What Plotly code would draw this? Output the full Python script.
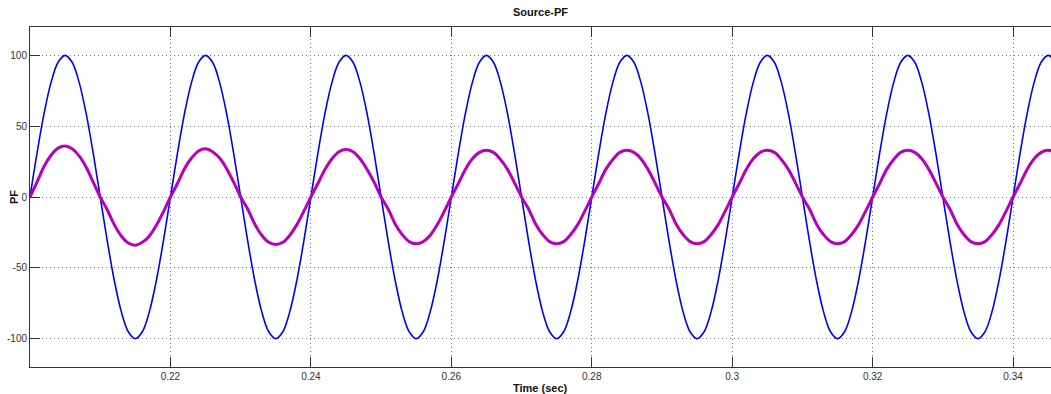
import plotly.graph_objects as go

# sample times (s), 1 ms step
t = [round(0.200 + 0.001 * i, 3) for i in range(151)]

# blue trace values
blue = [
    0, 30.9, 58.8, 80.9, 95.1, 100, 95.1, 80.9, 58.8, 30.9,
    0, -30.9, -58.8, -80.9, -95.1, -100, -95.1, -80.9, -58.8, -30.9,
    0, 30.9, 58.8, 80.9, 95.1, 100, 95.1, 80.9, 58.8, 30.9,
    0, -30.9, -58.8, -80.9, -95.1, -100, -95.1, -80.9, -58.8, -30.9,
    0, 30.9, 58.8, 80.9, 95.1, 100, 95.1, 80.9, 58.8, 30.9,
    0, -30.9, -58.8, -80.9, -95.1, -100, -95.1, -80.9, -58.8, -30.9,
    0, 30.9, 58.8, 80.9, 95.1, 100, 95.1, 80.9, 58.8, 30.9,
    0, -30.9, -58.8, -80.9, -95.1, -100, -95.1, -80.9, -58.8, -30.9,
    0, 30.9, 58.8, 80.9, 95.1, 100, 95.1, 80.9, 58.8, 30.9,
    0, -30.9, -58.8, -80.9, -95.1, -100, -95.1, -80.9, -58.8, -30.9,
    0, 30.9, 58.8, 80.9, 95.1, 100, 95.1, 80.9, 58.8, 30.9,
    0, -30.9, -58.8, -80.9, -95.1, -100, -95.1, -80.9, -58.8, -30.9,
    0, 30.9, 58.8, 80.9, 95.1, 100, 95.1, 80.9, 58.8, 30.9,
    0, -30.9, -58.8, -80.9, -95.1, -100, -95.1, -80.9, -58.8, -30.9,
    0, 30.9, 58.8, 80.9, 95.1, 100, 95.1, 80.9, 58.8, 30.9,
    0,
]

# magenta trace values
magenta = [
    0, 10.5, 21.5, 29.5, 34.5, 36.0, 34.0, 29.0, 21.0, 10.5,
    0, -9.0, -19.5, -27.5, -32.5, -34.0, -32.0, -27.5, -20.0, -10.5,
    0, 9.5, 20.0, 27.5, 32.5, 34.0, 32.0, 27.5, 20.0, 10.5,
    0, -8.5, -19.0, -27.0, -32.0, -33.5, -32.0, -27.0, -19.5, -10.0,
    0, 9.5, 19.5, 27.0, 32.0, 33.5, 32.0, 27.0, 19.5, 10.5,
    0, -8.5, -19.0, -26.5, -31.5, -33.0, -31.5, -27.0, -19.5, -10.0,
    0, 9.5, 19.5, 27.0, 31.5, 33.0, 31.5, 26.5, 19.5, 10.0,
    0, -8.5, -19.0, -26.5, -31.5, -33.0, -31.5, -26.5, -19.5, -10.0,
    0, 9.5, 19.5, 26.5, 31.5, 33.0, 31.5, 27.0, 19.5, 10.0,
    0, -8.5, -19.0, -26.5, -31.5, -33.0, -31.5, -26.5, -19.5, -10.0,
    0, 9.5, 19.5, 27.0, 31.5, 33.0, 31.5, 26.5, 19.5, 10.0,
    0, -8.5, -19.0, -26.5, -31.5, -33.0, -31.5, -26.5, -19.5, -10.0,
    0, 9.5, 19.5, 26.5, 31.5, 33.0, 31.5, 27.0, 19.5, 10.0,
    0, -8.5, -19.0, -26.5, -31.5, -33.0, -31.5, -26.5, -19.5, -10.0,
    0, 9.5, 19.5, 27.0, 31.5, 33.0, 31.5, 27.0, 19.5, 10.0,
    0,
]

x_ticks = [0.22, 0.24, 0.26, 0.28, 0.30, 0.32, 0.34]
x_tick_labels = ["0.22", "0.24", "0.26", "0.28", "0.3", "0.32", "0.34"]
y_ticks = [-100, -50, 0, 50, 100]
y_tick_labels = ["-100", "-50", "0", "50", "100"]

FONT = "Liberation Sans, Arial, sans-serif"
AX = "#333333"

fig = go.Figure()
fig.add_trace(go.Scatter(x=t, y=blue, mode="lines",
                         line=dict(color="#0000FF", width=1.6, shape="spline"),
                         showlegend=False))
fig.add_trace(go.Scatter(x=t, y=magenta, mode="lines",
                         line=dict(color="#B800B8", width=3, shape="spline"),
                         showlegend=False))

axis_common = dict(
    showline=True, linecolor=AX, linewidth=1,
    ticks="inside", ticklen=10, tickcolor=AX, tickwidth=1,
    showgrid=True, gridcolor="#777777", griddash="1px,3px", gridwidth=1,
    zeroline=False,
    tickfont=dict(family=FONT, size=10, color=AX),
)

fig.update_xaxes(range=[0.2, 0.3454], tickvals=x_ticks, ticktext=x_tick_labels,
                 mirror="allticks", **axis_common)
fig.update_yaxes(range=[-120, 120], tickvals=y_ticks, ticktext=y_tick_labels,
                 mirror=False, **axis_common)

fig.update_layout(
    width=1051, height=394,
    margin=dict(l=30, r=0, t=27, b=27, autoexpand=False),
    plot_bgcolor="white", paper_bgcolor="white",
    font=dict(family=FONT),
    annotations=[
        dict(text="<b>Source-PF</b>", x=0.5, y=1.044, xref="paper", yref="paper",
             showarrow=False, xanchor="center", yanchor="middle",
             font=dict(size=11, color="#111111")),
        dict(text="<b>Time (sec)</b>", x=0.5, y=-0.062, xref="paper", yref="paper",
             showarrow=False, xanchor="center", yanchor="middle",
             font=dict(size=11, color="#111111")),
        dict(text="<b>PF</b>", x=-0.0157, y=0.5, xref="paper", yref="paper",
             showarrow=False, xanchor="center", yanchor="middle", textangle=-90,
             font=dict(size=11, color="#111111")),
    ],
)

fig.write_html("out.html",
               config={"displayModeBar": False},
               post_script="document.body.style.margin='0';document.body.style.overflow='hidden';")
